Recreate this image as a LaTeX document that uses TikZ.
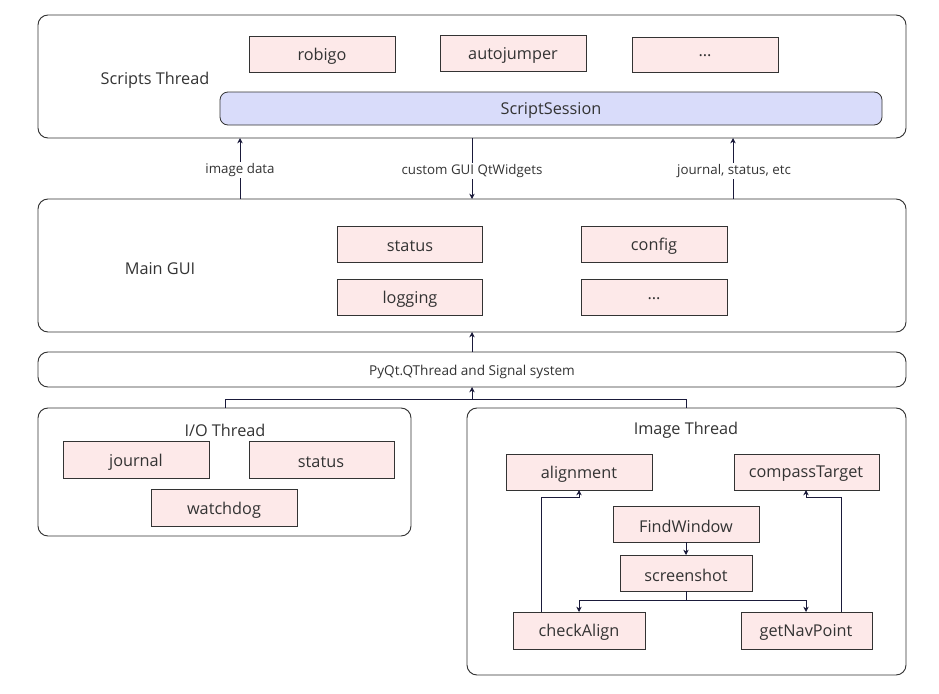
\documentclass[tikz,border=0pt]{standalone}
\usepackage{fontspec}
\setmainfont{Open Sans}
\usetikzlibrary{arrows.meta}
\definecolor{boxfill}{HTML}{FDE9E9}
\definecolor{sessfill}{HTML}{D9DCFA}
\definecolor{edge}{HTML}{333333}
\definecolor{txt}{HTML}{333333}
\definecolor{arr}{HTML}{1A1A3A}
\tikzset{
  px/.style={x=0.75pt,y=-0.75pt},
  group/.style={draw=edge,rounded corners=7.5pt,line width=0.7pt},
  item/.style={draw=edge,fill=boxfill,line width=0.6pt},
  lbl/.style={text=txt,font=\fontsize{12.2}{14}\selectfont,yshift=-1.5pt},
  small/.style={text=txt,font=\fontsize{10}{12}\selectfont,fill=white,inner sep=1pt},
  conn/.style={draw=arr,line width=0.6pt},
  arrow/.style={conn,-{Stealth[length=4pt,width=4pt]}},
}
\begin{document}
\begin{tikzpicture}[px]
\useasboundingbox (0,0) rectangle (939,693);
% Scripts Thread
\draw[group] (38,15) rectangle (906,138);
\node[lbl] (stl) at (155,78) {Scripts Thread};
\draw[item] (249,36) rectangle (395,72); \node[lbl] (robigo) at (322,54) {robigo};
\draw[item] (440,35) rectangle (586,71); \node[lbl] (auto) at (513,53) {autojumper};
\draw[item] (632,37) rectangle (778,72); \node[lbl] (dots1) at (705,54) {...};
\draw[draw=edge,fill=sessfill,rounded corners=6pt,line width=0.6pt] (220,92) rectangle (882,125);
\node[lbl] (sess) at (551,108) {ScriptSession};
% Main GUI
\draw[group] (38,199) rectangle (906,332);
\node[lbl] (mgl) at (160,267) {Main GUI};
\draw[item] (337,226) rectangle (482,262); \node[lbl] (mstatus) at (410,244) {status};
\draw[item] (581,226) rectangle (727,262); \node[lbl] (config) at (654,244) {config};
\draw[item] (337,279) rectangle (482,315); \node[lbl] (logging) at (410,297) {logging};
\draw[item] (581,279) rectangle (727,315); \node[lbl] (dots2) at (654,297) {...};
% arrows between Scripts and Main GUI
\coordinate (a1b) at (240,199); \coordinate (a1t) at (240,138);
\coordinate (a2b) at (472,199); \coordinate (a2t) at (472,138);
\coordinate (a3b) at (733,199); \coordinate (a3t) at (733,138);
\draw[arrow] (a1b) -- (a1t);
\draw[arrow] (a2t) -- (a2b);
\draw[arrow] (a3b) -- (a3t);
\node[small] (l1) at (240,170) {image data};
\node[small] (l2) at (472,171) {custom GUI QtWidgets};
\node[small] (l3) at (734,171) {journal, status, etc};
% PyQt bar
\draw[group] (38,352) rectangle (906,387);
\node[text=txt,font=\fontsize{10.2}{12}\selectfont,yshift=-0.8pt] (pyqt) at (472,371) {PyQt.QThread and Signal system};
\coordinate (b1) at (472,352); \coordinate (b0) at (472,332);
\draw[arrow] (b1) -- (b0);
% I/O Thread
\draw[group] (38,408) rectangle (411,536);
\node[lbl] (iol) at (225,428) {I/O Thread};
\draw[item] (63,441) rectangle (209,478); \node[lbl] (journal) at (136,460) {journal};
\draw[item] (249,441) rectangle (394,478); \node[lbl] (iostatus) at (321,460) {status};
\draw[item] (151,489) rectangle (297,526); \node[lbl] (watchdog) at (224,508) {watchdog};
% Image Thread
\draw[group] (467,408) rectangle (906,675);
\node[lbl] (iml) at (686,428) {Image Thread};
\draw[item] (506,454) rectangle (652,490); \node[lbl] (alignment) at (579,472) {alignment};
\draw[item] (734,454) rectangle (879,490); \node[lbl] (compass) at (806,472) {compassTarget};
\draw[item] (613,506) rectangle (759,542); \node[lbl] (findw) at (686,524) {FindWindow};
\draw[item] (620,555) rectangle (752,591); \node[lbl] (shot) at (686,573) {screenshot};
\draw[item] (513,612) rectangle (645,649); \node[lbl] (check) at (579,630) {checkAlign};
\draw[item] (741,612) rectangle (872,649); \node[lbl] (nav) at (806,630) {getNavPoint};
% connector from threads to bar
\coordinate (ioT) at (225,408); \coordinate (imT) at (686,408);
\coordinate (j1) at (225,399); \coordinate (j2) at (686,399);
\coordinate (jm) at (472,399); \coordinate (barb) at (472,387);
\draw[conn] (ioT) -- (j1) -- (j2) -- (imT);
\draw[arrow] (jm) -- (barb);
% image thread connectors
\draw[arrow] (686,542) -- (686,555);
\draw[conn] (686,591) -- (686,600);
\draw[arrow] (686,600) -| (579,612);
\draw[arrow] (686,600) -| (806,612);
\draw[arrow] (541,612) |- (579,497) -- (579,490);
\draw[arrow] (841,612) |- (806,497) -- (806,490);
\end{tikzpicture}
\end{document}
